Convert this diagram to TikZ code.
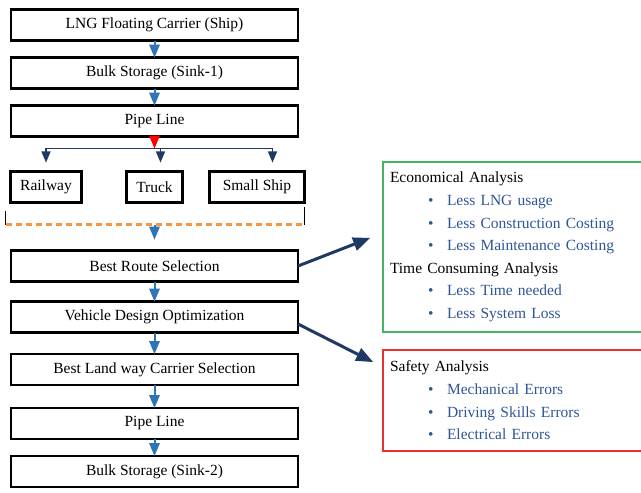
\documentclass[tikz,border=0pt]{standalone}
\usepackage{fontspec}
\setmainfont{Liberation Serif}
\usetikzlibrary{arrows, positioning, calc}
\definecolor{flowblue}{RGB}{46,117,182}
\definecolor{navy}{RGB}{31,56,100}
\definecolor{dashorange}{RGB}{244,150,70}
\definecolor{boxgreen}{RGB}{70,180,95}
\definecolor{boxred}{RGB}{232,50,50}
\definecolor{itemblue}{RGB}{47,85,151}
\tikzstyle{stage} = [rectangle, minimum width=287pt, minimum height=31pt, inner sep=0pt, outer sep=0pt, text centered, draw=black, line width=2.2pt, font=\fontsize{15.5}{17}\selectfont]
\tikzstyle{carrier} = [rectangle, minimum height=31pt, inner sep=0pt, outer sep=0pt, text centered, draw=black, line width=2.2pt, font=\fontsize{15.5}{17}\selectfont]
\tikzstyle{analysis} = [rectangle, line width=1.6pt, outer sep=0pt, text width=286pt, inner xsep=7pt, align=left, font=\fontsize{15.5}{22.6}\selectfont]
\tikzstyle{arrow} = [flowblue, line width=2pt, ->, >=triangle 45]
\tikzstyle{branch} = [navy, line width=1.6pt, ->, >=triangle 45]
\tikzstyle{bigarrow} = [navy, line width=3pt, ->, >=triangle 45]
\newcommand{\bul}[1]{\hspace*{38pt}\makebox[19pt][l]{\textcolor{itemblue}{\textbullet}}\textcolor{itemblue}{#1}}

\begin{document}
\begin{tikzpicture}
            \useasboundingbox (0,0) rectangle (641pt,-493pt);
            \node (ship) [stage] at (154.5pt,-25pt) {LNG Floating Carrier (Ship)};
            \node (sink1) [stage, below=17pt of ship] {Bulk Storage (Sink-1)};
            \node (pipe1) [stage, below=17pt of sink1] {Pipe Line};
            \coordinate [below=12pt of pipe1] (split);

            \node (truck) [carrier, minimum width=56pt, below=35pt of pipe1] {Truck};
            \node (rail) [carrier, minimum width=71pt, left=45pt of truck] {Railway};
            \node (small) [carrier, minimum width=95pt, right=27pt of truck] {Small Ship};
            \coordinate (brl) at ($(rail.south west)+(-5pt,-22pt)$);
            \coordinate (brr) at ($(small.south east)+(0,-22pt)$);

            \node (route) [stage, below=48pt of truck.south -| pipe1] {Best Route Selection};
            \node (vehicle) [stage, below=20pt of route] {Vehicle Design Optimization};
            \node (land) [stage, below=21.5pt of vehicle] {Best Land way Carrier Selection};
            \node (pipe2) [stage, below=23pt of land] {Pipe Line};
            \node (sink2) [stage, below=17pt of pipe2] {Bulk Storage (Sink-2)};

            \node (eco) [analysis, draw=boxgreen, minimum height=170pt, right=85pt of route, yshift=19pt] {Economical Analysis\\
                \bul{Less LNG usage}\\
                \bul{Less Construction Costing}\\
                \bul{Less Maintenance Costing}\\
                Time Consuming Analysis\\
                \bul{Less Time needed}\\
                \bul{Less System Loss}};
            \node (safety) [analysis, draw=boxred, minimum height=101pt, below=18pt of eco.south west, anchor=north west] {Safety Analysis\\
                \bul{Mechanical Errors}\\
                \bul{Driving Skills Errors}\\
                \bul{Electrical Errors}};
            \coordinate (ecoin) at ($(eco.west)+(-13pt,9pt)$);
            \coordinate (safein) at ($(safety.north west)+(-10pt,-12pt)$);

            \draw [arrow] (ship) -- (sink1);
            \draw [arrow] (sink1) -- (pipe1);
            \draw [red, line width=2pt, ->, >=triangle 45] (pipe1) -- (split);
            \draw [branch, shorten >=9pt] (split) -| (rail.north);
            \draw [branch, shorten >=9pt] (split) -| ([xshift=6pt]truck.north);
            \draw [branch, shorten >=9pt] (split) -| ([xshift=15.5pt]small.north);

            \draw [black, line width=1.4pt] (brl) -- ++(0,14pt);
            \draw [black, line width=1.4pt] (brr) -- ++(0,18pt);
            \draw [dashorange, line width=2.2pt, dash pattern=on 6pt off 4pt] (brl) -- (brr);
            \draw [arrow, shorten >=11pt] (route.north |- brl) -- (route.north);

            \draw [arrow] (route) -- (vehicle);
            \draw [arrow] (vehicle) -- (land);
            \draw [arrow] (land) -- (pipe2);
            \draw [arrow] (pipe2) -- (sink2);

            \draw [bigarrow] (route.east) -- (ecoin);
            \draw [bigarrow] ([yshift=-7pt]vehicle.east) -- (safein);
        \end{tikzpicture}
\end{document}
